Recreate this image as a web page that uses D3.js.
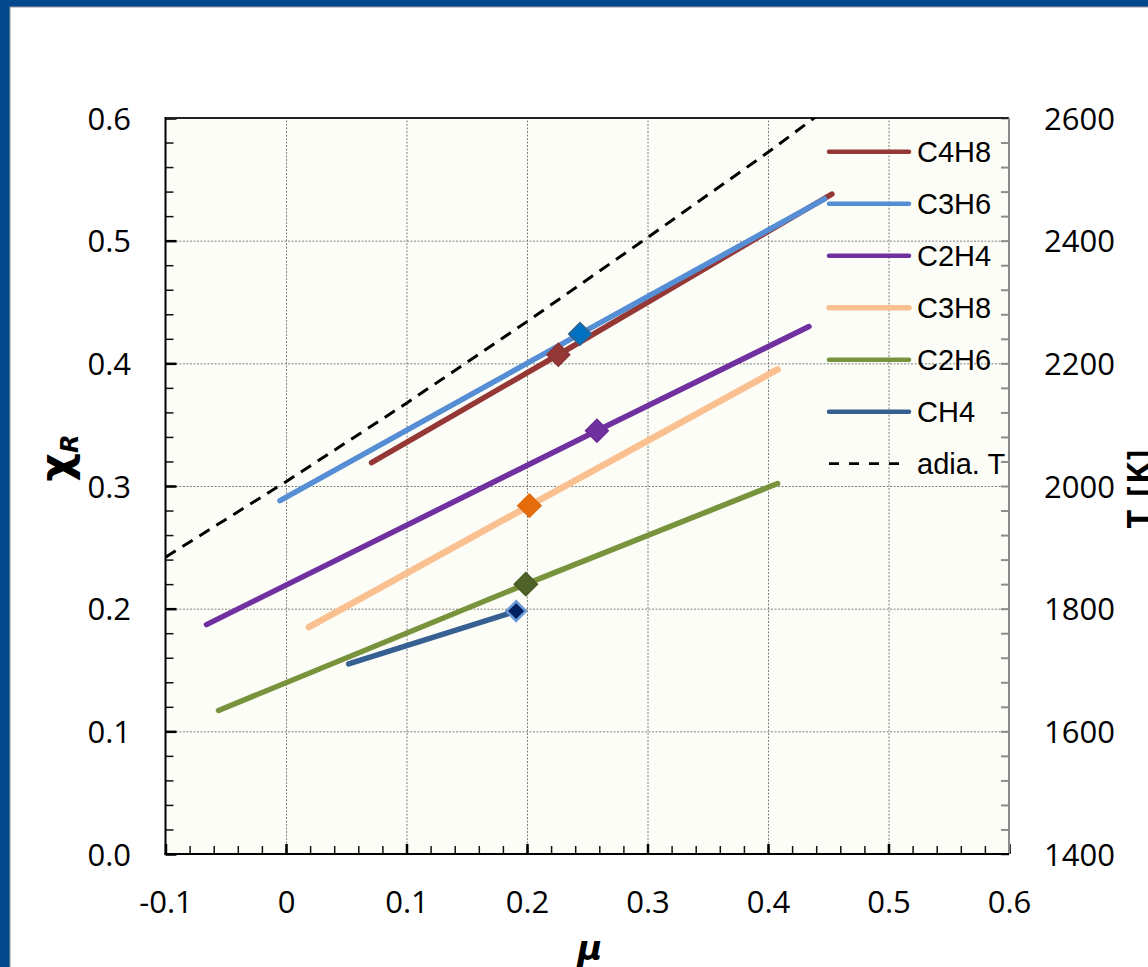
<!DOCTYPE html>
<html><head><meta charset="utf-8">
<script src="https://cdn.jsdelivr.net/npm/d3@7"></script>
<style>body{margin:0;background:#fff}svg{display:block}</style>
</head><body><svg id="c" width="1148" height="967"></svg>
<script>
// ---------- data ----------
const muTicks = [-0.1, 0, 0.1, 0.2, 0.3, 0.4, 0.5, 0.6];
const muTickLabels = ["-0.1", "0", "0.1", "0.2", "0.3", "0.4", "0.5", "0.6"];
const chiTicks = [0, 0.1, 0.2, 0.3, 0.4, 0.5, 0.6];
const tempTicks = [1400, 1600, 1800, 2000, 2200, 2400, 2600];
const seriesNames = ["C4H8", "C3H6", "C2H4", "C3H8", "C2H6", "CH4"];
const c4h8 = [[0.071, 0.319], [0.226, 0.407], [0.453, 0.538]];
const c3h6 = [[-0.005, 0.288], [0.244, 0.424], [0.447, 0.534]];
const c2h4 = [[-0.066, 0.187], [0.258, 0.345], [0.434, 0.430]];
const c3h8 = [[0.019, 0.185], [0.202, 0.284], [0.408, 0.395]];
const c2h6 = [[-0.056, 0.117], [0.199, 0.220], [0.408, 0.302]];
const ch4  = [[0.052, 0.155], [0.191, 0.198]];
const markerMu  = [0.226, 0.244, 0.258, 0.202, 0.199, 0.191];
const markerChi = [0.407, 0.424, 0.345, 0.284, 0.220, 0.198];
const adiaName = "adia. T";
const adiaMu = [-0.1, 0, 0.1, 0.2, 0.3, 0.4, 0.5];
const adiaT  = [1884, 2007, 2135, 2268, 2405, 2544, 2690];

// ---------- styles ----------
const seriesData = [c4h8, c3h6, c2h4, c3h8, c2h6, ch4];
const lineColors = ["#953735", "#558ED5", "#7030A0", "#FAC090", "#77933C", "#376092"];
const lineWidths = [5.5, 5.5, 5.5, 6.5, 5.5, 5.5];
const markerFill = ["#953735", "#0070C0", "#7030A0", "#E46C0A", "#4F6228", "#002060"];
const markerStroke = ["#8A3432", "#34628F", "#6A2D96", "#E06A0C", "#4A5C26", "#6A9AD8"];
const markerSizes = [260, 260, 260, 270, 270, 190];

const svg = d3.select("#c");
const W = 1148, H = 967;
const L = 165.5, R = 1009, T = 118, B = 854;

// frame
svg.append("rect").attr("width", W).attr("height", H).attr("fill", "#03478D");
svg.append("rect").attr("x", 10).attr("y", 7).attr("width", W).attr("height", H)
  .attr("fill", "#fff").attr("stroke", "#9a9a9a").attr("stroke-width", 1);

const x = d3.scaleLinear().domain([-0.1, 0.6]).range([L, R]);
const y = d3.scaleLinear().domain([0, 0.6]).range([B, T]);
const yT = d3.scaleLinear().domain([1400, 2600]).range([B, T]);

svg.append("rect").attr("x", L).attr("y", T).attr("width", R - L).attr("height", B - T)
  .attr("fill", "#FDFDF8");

svg.append("defs").append("clipPath").attr("id", "pc")
  .append("rect").attr("x", L).attr("y", T).attr("width", R - L).attr("height", B - T);

// gridlines
const gridV = svg.append("g").attr("transform", `translate(0,${B})`)
  .call(d3.axisBottom(x).tickValues(muTicks.filter(d => d > -0.1 && d < 0.6)).tickSize(-(B - T)).tickFormat(""));
const gridH = svg.append("g").attr("transform", `translate(${L},0)`)
  .call(d3.axisLeft(y).tickValues(chiTicks.filter(d => d > 0 && d < 0.6)).tickSize(-(R - L)).tickFormat(""));
[gridV, gridH].forEach(g => {
  g.select(".domain").remove();
  g.selectAll("line").attr("stroke", "#808080").attr("stroke-width", 1).attr("stroke-dasharray", "2,1.5");
});

// minor ticks
const muMinor = d3.range(0, 36).map(i => -0.1 + i * 0.02);
const chiMinor = d3.range(0, 31).map(i => i * 0.02);
const tMinor = d3.range(0, 31).map(i => 1400 + i * 40);

const bMin = svg.append("g").attr("transform", `translate(0,${B})`)
  .call(d3.axisBottom(x).tickValues(muMinor).tickSize(-8).tickFormat(""));
const bMaj = svg.append("g").attr("transform", `translate(0,${B})`)
  .call(d3.axisBottom(x).tickValues(muTicks).tickSize(-10).tickFormat(""));
const lMin = svg.append("g").attr("transform", `translate(${L},0)`)
  .call(d3.axisLeft(y).tickValues(chiMinor).tickSize(-8).tickFormat(""));
const lMaj = svg.append("g").attr("transform", `translate(${L},0)`)
  .call(d3.axisLeft(y).tickValues(chiTicks).tickSize(-11).tickFormat(""));
const rMin = svg.append("g").attr("transform", `translate(${R},0)`)
  .call(d3.axisRight(yT).tickValues(tMinor).tickSize(-8).tickFormat(""));
[bMin, bMaj, lMin, lMaj, rMin].forEach(g => g.select(".domain").remove());
[bMin, lMin].forEach(g => g.selectAll("line").attr("stroke", "#111").attr("stroke-width", 1.5));
[bMaj, lMaj].forEach(g => g.selectAll("line").attr("stroke", "#000").attr("stroke-width", 2.5));
rMin.selectAll("line").attr("stroke", "#8c8c8c").attr("stroke-width", 2);

// border lines
svg.append("line").attr("x1", L).attr("x2", R).attr("y1", T).attr("y2", T).attr("stroke", "#222").attr("stroke-width", 2);
svg.append("line").attr("x1", R).attr("x2", R).attr("y1", T).attr("y2", B).attr("stroke", "#8c8c8c").attr("stroke-width", 2);
svg.append("line").attr("x1", L).attr("x2", L).attr("y1", T - 1).attr("y2", B + 1).attr("stroke", "#000").attr("stroke-width", 2);
svg.append("line").attr("x1", L - 1).attr("x2", R).attr("y1", B).attr("y2", B).attr("stroke", "#000").attr("stroke-width", 2);

// tick labels
const tickFont = "'Open Sans', sans-serif";
const bl = svg.append("g").attr("transform", `translate(0,${B})`)
  .call(d3.axisBottom(x).tickValues(muTicks).tickSize(0).tickFormat((d, i) => muTickLabels[i]));
bl.select(".domain").remove();
bl.selectAll("text").attr("y", 59).attr("dy", 0).attr("font-family", tickFont).attr("font-size", 31).attr("fill", "#000");

const ll = svg.append("g").attr("transform", `translate(${L},0)`)
  .call(d3.axisLeft(y).tickValues(chiTicks).tickSize(0).tickFormat(d3.format(".1f")));
ll.select(".domain").remove();
ll.selectAll("text").attr("x", -(L - 131)).attr("dy", 11).attr("font-family", tickFont).attr("font-size", 31).attr("fill", "#000");

const rl = svg.append("g").attr("transform", `translate(${R},0)`)
  .call(d3.axisRight(yT).tickValues(tempTicks).tickSize(0).tickFormat(d3.format("d")));
rl.select(".domain").remove();
rl.selectAll("text").attr("x", 1044 - R).attr("dy", 11).attr("font-family", tickFont).attr("font-size", 31).attr("fill", "#000");

// axis titles
const chiT = svg.append("text").attr("transform", "translate(71,458) rotate(-90)")
  .attr("text-anchor", "middle").attr("font-family", "'DejaVu Sans', sans-serif").attr("font-weight", "bold");
chiT.append("tspan").attr("font-size", 44).text("χ");
chiT.append("tspan").attr("font-size", 24).attr("font-style", "italic").attr("dy", 7).text("R");

svg.append("text").attr("x", 590).attr("y", 960).attr("text-anchor", "middle")
  .attr("font-family", "'DejaVu Sans', sans-serif").attr("font-weight", "bold").attr("font-style", "italic")
  .attr("font-size", 34).text("μ");

svg.append("text").attr("transform", "translate(1150,488) rotate(-90)").attr("text-anchor", "middle")
  .attr("font-family", tickFont).attr("font-weight", "bold").attr("font-size", 33)
  .attr("letter-spacing", 2).text("T [K]");

// plot content
const plot = svg.append("g").attr("clip-path", "url(#pc)");
const line = d3.line().x(d => x(d[0])).y(d => y(d[1]));
seriesData.forEach((s, i) => {
  plot.append("path").attr("d", line(s)).attr("fill", "none")
    .attr("stroke", lineColors[i]).attr("stroke-width", lineWidths[i])
    .attr("stroke-linecap", "round").attr("stroke-linejoin", "round");
});
const adiaLine = d3.line().x((d, i) => x(adiaMu[i])).y(d => yT(d));
plot.append("path").attr("d", adiaLine(adiaT)).attr("fill", "none")
  .attr("stroke", "#000").attr("stroke-width", 3).attr("stroke-dasharray", "12,8");

// markers (diamonds)
const sq = d3.symbol().type(d3.symbolSquare);
markerMu.forEach((m, i) => {
  plot.append("path").attr("d", sq.size(markerSizes[i])())
    .attr("transform", `translate(${x(m)},${y(markerChi[i])}) rotate(45)`)
    .attr("fill", markerFill[i]).attr("stroke", markerStroke[i]).attr("stroke-width", i === 5 ? 2.5 : 1.5);
});

// legend
const lg = plot.append("g");
const legendNames = seriesNames.concat([adiaName]);
legendNames.forEach((n, i) => {
  const ly = 151.7 + i * 52;
  const ln = lg.append("line").attr("x1", 829).attr("x2", 909).attr("y1", ly).attr("y2", ly);
  if (i < 6) {
    ln.attr("stroke", lineColors[i]).attr("stroke-width", i === 3 ? 5.5 : 4.5).attr("stroke-linecap", "round");
  } else {
    ln.attr("stroke", "#000").attr("stroke-width", 2.8).attr("stroke-dasharray", "10,10");
  }
  lg.append("text").attr("x", 917).attr("y", ly + 10)
    .attr("font-family", "'Liberation Sans', Arial, sans-serif").attr("font-size", 29)
    .attr("fill", "#000").text(n);
});
</script></body></html>
